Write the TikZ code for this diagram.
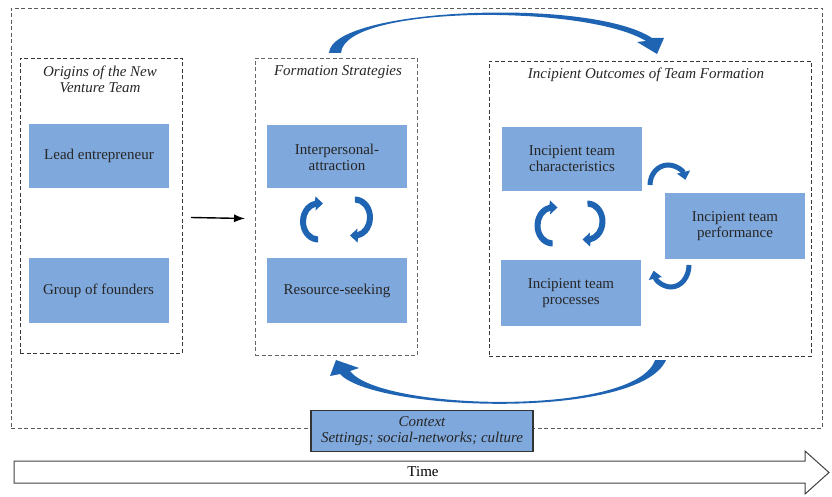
\documentclass[tikz,border=0pt]{standalone}
\usepackage{fontspec}
\setmainfont{Liberation Serif}
\usepackage{tikz}
\usetikzlibrary{arrows.meta}
\definecolor{boxblue}{RGB}{127,168,220}
\definecolor{arrblue}{RGB}{31,100,178}
\definecolor{dashgray}{RGB}{55,55,55}

\tikzset{cyc/.pic={
  \fill[arrblue] (5.5,-11) -- (13,-18) -- (5.5,-25) -- (4.9,-20.7)
    arc[start angle=260, end angle=90, x radius=18, y radius=21] -- (8,15)
    arc[start angle=90, end angle=260, x radius=12, y radius=15] -- cycle;}}

\begin{document}
\begin{tikzpicture}[x=1pt, y=-1pt, inner sep=0pt, outer sep=0pt,
    font=\fontsize{15pt}{16pt}\selectfont]
    \tikzstyle{blk}=[rectangle, fill=boxblue, text=black!85, align=center, minimum width=140pt]
    \tikzstyle{grp}=[rectangle, draw=dashgray, dash pattern=on 4pt off 2.5pt, line width=0.9pt]
    \tikzstyle{ttl}=[font=\fontsize{15pt}{16pt}\selectfont\itshape, text=black!85, align=center]
    \tikzstyle{hump}=[draw=arrblue, line width=5pt, -{Triangle[width=13pt,length=8pt]}]
    \tikzstyle{lnk}=[-{Latex[length=11pt,width=8pt]}, line width=1.4pt]

    \useasboundingbox (0,0) rectangle (832,497);

    % frames
    \node[grp, draw=black!65, minimum width=811pt, minimum height=420pt] (frame) at (416.5,218) {};
    \node[grp, minimum width=162pt, minimum height=295pt] (orig) at (101,205.5) {};
    \node[grp, draw=black!60, minimum width=162pt, minimum height=297pt] (form) at (336,206.5) {};
    \node[grp, minimum width=322pt, minimum height=295pt] (outc) at (650,208.5) {};

    \node[ttl] (origT) at (100,79) {Origins of the New\\Venture Team};
    \node[ttl] (formT) at (338,72) {Formation Strategies};
    \node[ttl] (outcT) at (646,75) {Incipient Outcomes of Team Formation};

    % boxes
    \node[blk, minimum height=64pt] (lead) at (99,156) {Lead entrepreneur};
    \node[blk, minimum height=65pt] (group) at (98.5,290.5) {Group of founders};
    \node[blk, minimum height=63pt] (attr) at (337,157) {Interpersonal-\\attraction};
    \node[blk, minimum height=65pt] (res) at (337,290.5) {Resource-seeking};
    \node[blk, minimum height=64pt] (chr) at (572,159) {Incipient team\\characteristics};
    \node[blk, minimum height=66pt] (proc) at (571,293) {Incipient team\\processes};
    \node[blk, minimum height=66pt] (perf) at (735,226) {Incipient team\\performance};

    \node[ttl, fill=boxblue, draw=black!80, line width=1.2pt, minimum width=222pt,
      minimum height=41pt] (ctx) at (422,431) {Context\\Settings; social-networks; culture};

    % time
    \draw[draw=black!75, line width=1pt] (14,461) -- (805,461) -- (805,451) -- (829,472.5)
      -- (805,494) -- (805,483) -- (14,483) -- cycle;
    \node (time) at (423,472) {Time};

    % arrows
    \draw[lnk] ([xshift=9pt,yshift=-12pt] orig.east) -- ([xshift=-10pt,yshift=-12pt] form.west);

    \fill[arrblue] (329,53) .. controls (331,8) and (590,-3) .. (652,38) -- (664,38) -- (657,54)
      -- (637,42) -- (646,41) .. controls (585,4) and (344,5) .. (341,53) -- cycle;
    \fill[arrblue] (666,360) .. controls (640,420) and (375,412) .. (340,374) -- (330,376)
      -- (336,360) -- (359,368) -- (350,371) .. controls (380,411) and (636,417) .. (655,360) -- cycle;

    \pic at (310,221.5) {cyc};
    \pic[rotate=180] at (363,217.5) {cyc};
    \pic at (544.5,225.5) {cyc};
    \pic[rotate=180] at (595.5,221.5) {cyc};

    \draw[hump] (650,185) arc[start angle=180, end angle=345, x radius=18, y radius=20];
    \draw[hump] (689,265) arc[start angle=0, end angle=165, x radius=18, y radius=22];
\end{tikzpicture}
\end{document}
